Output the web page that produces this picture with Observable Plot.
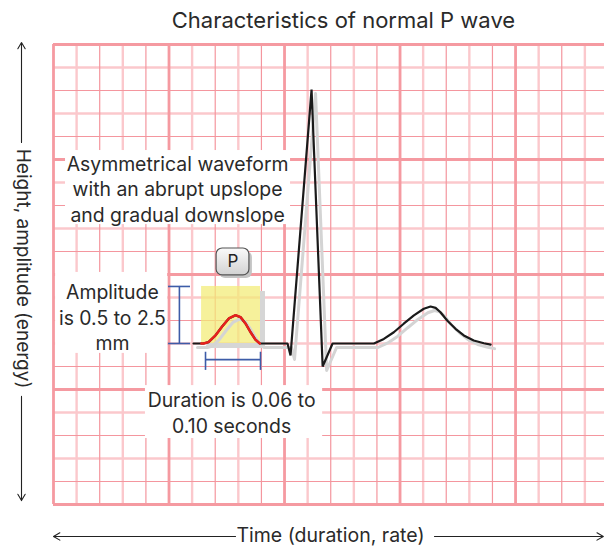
<!DOCTYPE html>
<html><head><meta charset="utf-8">
<script src="https://cdn.jsdelivr.net/npm/d3@7"></script>
<script src="https://cdn.jsdelivr.net/npm/@observablehq/plot@0.6"></script>
<style>body{margin:0;background:#fff}</style>
</head><body><div id="chart"></div>
<script>
// ECG paper grid (small boxes)
const gridX = [0,1,2,3,4,5,6,7,8,9,10,11,12,13,14,15,16,17,18,19,20,21,22,23];
const gridY = [0,1,2,3,4,5,6,7,8,9,10,11,12,13,14,15,16,17,18,19,20];

// Full ECG trace (black)
const traceX = [6.06,6.49,6.71,7.01,7.30,7.59,7.88,8.10,8.31,8.53,8.74,8.93,10.13,10.26,11.17,11.65,12.08,13.87,14.30,14.73,15.16,15.60,16.03,16.32,16.54,16.75,17.04,17.40,17.76,18.19,18.63,18.92];
const traceY = [7.0,7.0,7.06,7.35,7.74,8.09,8.23,8.14,7.87,7.49,7.17,7.0,7.0,6.48,18.04,6.0,7.0,7.0,7.2,7.49,7.86,8.22,8.51,8.61,8.55,8.36,8.0,7.64,7.35,7.13,7.01,6.95];

// P wave (red)
const pWaveX = [6.40,6.49,6.71,7.01,7.30,7.59,7.88,8.10,8.31,8.53,8.74,8.93];
const pWaveY = [7.0,7.0,7.06,7.35,7.74,8.09,8.23,8.14,7.87,7.49,7.17,7.0];

// Highlight box and brackets
const pBox = {x1: 6.41, x2: 8.96, y1: 7.0, y2: 9.48};
const ampBracket = {x: 5.45, y1: 7.0, y2: 9.48, capX1: 4.98, capX2: 5.93};
const durBracket = {y: 6.30, x1: 6.58, x2: 8.96, capY1: 5.83, capY2: 6.62};
const pButton = {x1: 7.06, x2: 8.48, y1: 9.96, y2: 11.13, label: "P"};

// Annotations
const noteText = ["Asymmetrical waveform\nwith an abrupt upslope\nand gradual downslope", "Amplitude\nis 0.5 to 2.5\nmm", "Duration is 0.06 to\n0.10 seconds"];
const noteX = [5.37, 2.55, 7.71];
const noteY = [13.76, 8.17, 4.02];
const noteBoxX1 = [0.52, 0.09, 3.98];
const noteBoxX2 = [10.26, 4.94, 11.65];
const noteBoxY1 = [12.17, 6.57, 2.87];
const noteBoxY2 = [15.39, 10.09, 5.17];

const title = "Characteristics of normal P wave";
const xLabel = "Time (duration, rate)";
const yLabel = "Height, amplitude (energy)";

const FONT = "Inter, Lato, sans-serif";
const isMajor = i => i % 5 === 0;
const vLight = i => i % 5 === 1 || i % 5 === 3;
const hLight = i => i % 5 === 2 || i % 5 === 4;

const trace = traceX.map((x, i) => ({x, y: traceY[i]}));
const pWave = pWaveX.map((x, i) => ({x, y: pWaveY[i]}));
const notes = noteText.map((t, i) => ({t, x: noteX[i], y: noteY[i], x1: noteBoxX1[i], x2: noteBoxX2[i], y1: noteBoxY1[i], y2: noteBoxY2[i]}));

const XMAX = 23.85;
const chart = Plot.plot({
  width: 604, height: 546,
  marginLeft: 53, marginRight: 0, marginTop: 44, marginBottom: 42,
  x: {domain: [0, XMAX], axis: null},
  y: {domain: [0, 20], axis: null},
  style: {fontFamily: FONT, background: "white"},
  marks: [
    // grid: light minor lines
    Plot.ruleX(gridX.filter(i => !isMajor(i) && vLight(i)), {y1: 0, y2: 20, stroke: "#fbc8cc", strokeWidth: 2.4}),
    Plot.ruleY(gridY.filter(i => !isMajor(i) && hLight(i)), {x1: 0, x2: XMAX, stroke: "#fbc8cc", strokeWidth: 2.4}),
    // grid: dark minor lines
    Plot.ruleX(gridX.filter(i => !isMajor(i) && !vLight(i)), {y1: 0, y2: 20, stroke: "#f4969e", strokeWidth: 1.2}),
    Plot.ruleY(gridY.filter(i => !isMajor(i) && !hLight(i)), {x1: 0, x2: XMAX, stroke: "#f4969e", strokeWidth: 1.2}),
    // grid: major lines
    Plot.ruleX(gridX.filter(isMajor), {y1: 0, y2: 20, stroke: "#f59aa1", strokeWidth: 2.8}),
    Plot.ruleY(gridY.filter(isMajor), {x1: 0, x2: XMAX, stroke: "#f59aa1", strokeWidth: 2.8}),

    // white note backgrounds
    Plot.rect(notes, {x1: "x1", x2: "x2", y1: "y1", y2: "y2", fill: "white"}),

    // yellow highlight with shadow
    Plot.rect([pBox], {x1: "x2", x2: "x2", y1: "y1", y2: "y2", insetRight: -5, dy: 5, fill: "#d6d6d6"}),
    Plot.rect([pBox], {x1: "x1", x2: "x2", y1: "y1", y2: "y1", insetBottom: -5, dx: 5, fill: "#d6d6d6"}),
    Plot.rect([pBox], {x1: "x1", x2: "x2", y1: "y1", y2: "y2", fill: "#f3ec75", fillOpacity: 0.72}),

    // brackets
    Plot.ruleX([ampBracket], {x: "x", y1: "y1", y2: "y2", stroke: "#3d5ca8", strokeWidth: 1.6}),
    Plot.ruleY([ampBracket.y1, ampBracket.y2], {y: d => d, x1: ampBracket.capX1, x2: ampBracket.capX2, stroke: "#3d5ca8", strokeWidth: 1.6}),
    Plot.ruleY([durBracket], {y: "y", x1: "x1", x2: "x2", stroke: "#3d5ca8", strokeWidth: 1.6}),
    Plot.ruleX([durBracket.x1, durBracket.x2], {x: d => d, y1: durBracket.capY1, y2: durBracket.capY2, stroke: "#3d5ca8", strokeWidth: 1.6}),

    // trace shadow, trace, P wave
    Plot.line(trace, {x: "x", y: "y", dx: 4, dy: 4, stroke: "#d4d4d4", strokeWidth: 3, strokeLinejoin: "round"}),
    Plot.line(trace, {x: "x", y: "y", stroke: "#1a1a1a", strokeWidth: 2.2, strokeLinejoin: "miter"}),
    Plot.line(pWave, {x: "x", y: "y", stroke: "#e8201c", strokeWidth: 2.5, strokeLinejoin: "round"}),

    // P button
    Plot.rect([pButton], {x1: "x1", x2: "x2", y1: "y1", y2: "y2", dx: 3, dy: 3, rx: 6, fill: "#c4c4c4"}),
    Plot.rect([pButton], {x1: "x1", x2: "x2", y1: "y1", y2: "y2", rx: 6, fill: "url(#pgrad)", stroke: "#555", strokeWidth: 1.2}),
    Plot.text([pButton], {x: d => (d.x1 + d.x2) / 2, y: d => (d.y1 + d.y2) / 2, text: "label", fontSize: 17, fill: "#222"}),

    // notes
    Plot.text(notes, {x: "x", y: "y", text: "t", fontSize: 19.4, lineHeight: 1.31, fill: "#2a2a2a"}),

    // title
    Plot.text([title], {x: 12.55, y: 21.04, text: d => d, fontSize: 22, fill: "#2a2a2a"}),

    // x label + arrows
    Plot.text([xLabel], {x: 11.99, y: -1.35, text: d => d, fontSize: 19.5, fill: "#2a2a2a"}),
    Plot.arrow([0], {x1: 7.88, y1: -1.39, x2: 0, y2: -1.39, headLength: 10, headAngle: 60, stroke: "#222", strokeWidth: 1.1}),
    Plot.arrow([0], {x1: 16.49, y1: -1.39, x2: 23.8, y2: -1.39, headLength: 10, headAngle: 60, stroke: "#222", strokeWidth: 1.1}),

    // y label + arrows
    Plot.text([yLabel], {x: -1.3, y: 10.26, text: d => d, rotate: 90, fontSize: 19, fill: "#2a2a2a"}),
    Plot.arrow([0], {x1: -1.385, y1: 15.74, x2: -1.385, y2: 20.09, headLength: 10, headAngle: 60, stroke: "#222", strokeWidth: 1.1}),
    Plot.arrow([0], {x1: -1.385, y1: 4.70, x2: -1.385, y2: 0.17, headLength: 10, headAngle: 60, stroke: "#222", strokeWidth: 1.1})
  ]
});

const defs = d3.select(chart).insert("defs", ":first-child");
const grad = defs.append("linearGradient").attr("id", "pgrad").attr("x1", 0).attr("y1", 0).attr("x2", 0).attr("y2", 1);
grad.append("stop").attr("offset", "0%").attr("stop-color", "#fafafa");
grad.append("stop").attr("offset", "100%").attr("stop-color", "#d2d2d2");

document.getElementById("chart").appendChild(chart);
</script>
</body></html>
